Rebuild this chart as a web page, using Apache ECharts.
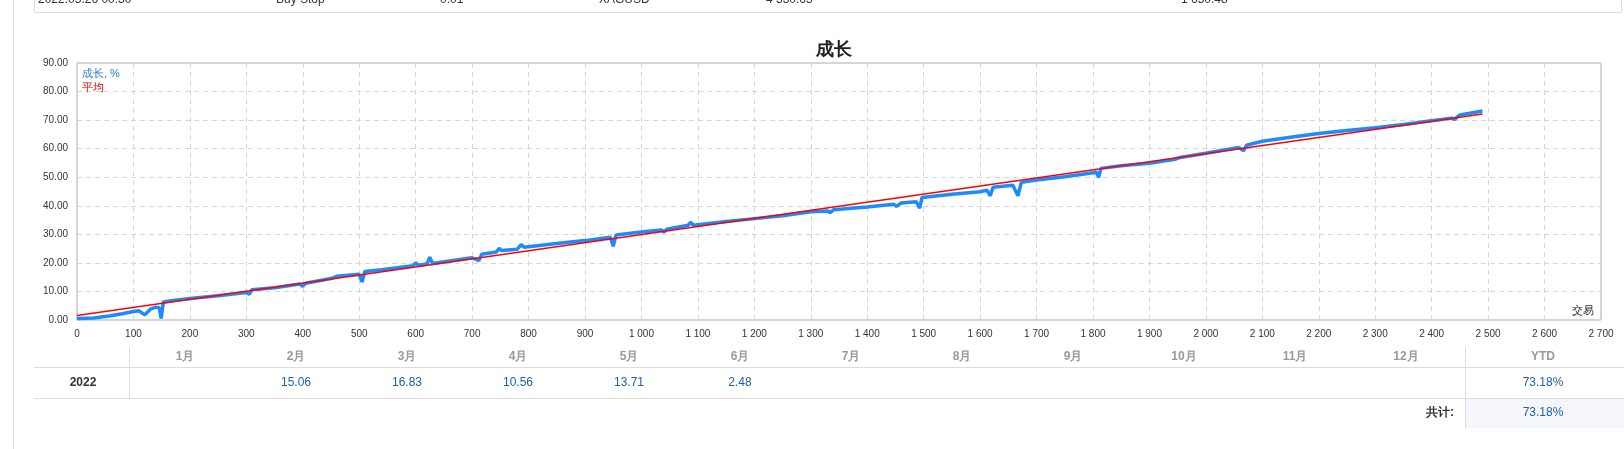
<!DOCTYPE html>
<html>
<head>
<meta charset="utf-8">
<script src="https://cdn.jsdelivr.net/npm/echarts@6/dist/echarts.min.js"></script>
<style>
html,body{margin:0;padding:0;background:#fff;}
#c{width:1624px;height:449px;}
</style>
</head>
<body>
<div id="c"></div>
<script>
// ---- data ----
const title = '成长';
const growthName = '成长, %';
const avgName = '平均';
const xAxisName = '交易';
const growth = [
  [0,0.5],[30,0.7],[60,1.5],[80,2.2],[100,3.0],[110,3.2],[120,1.8],[130,3.8],[140,4.5],[146,4.2],[149,0.5],[153,6.3],
  [170,6.8],[200,7.5],[250,8.5],[300,9.6],[305,9.0],[310,10.6],[350,11.3],[395,12.6],[400,11.8],[405,12.9],
  [450,14.5],[460,15.3],[500,16.0],[505,13.3],[510,17.0],[540,17.6],[595,19.0],[600,20.0],[605,19.2],[620,19.6],
  [625,22.0],[630,19.8],[700,21.8],[712,20.8],[717,23.0],[743,23.8],[748,25.1],[752,24.3],[780,24.8],[787,26.4],
  [792,25.5],[850,26.8],[900,27.8],[945,29.0],[950,25.8],[955,29.8],[1000,30.8],[1035,31.5],[1040,30.8],[1045,31.8],
  [1083,33.2],[1087,34.2],[1092,33.2],[1150,34.5],[1200,35.5],[1250,36.5],[1300,37.9],[1330,38.2],[1335,37.6],
  [1340,38.6],[1400,39.6],[1447,40.5],[1452,39.8],[1460,41.0],[1487,41.4],[1493,39.2],[1497,42.9],[1550,44.0],
  [1600,44.9],[1612,45.5],[1618,43.5],[1623,46.5],[1658,47.2],[1667,43.5],[1673,48.2],[1700,49.0],[1750,50.2],
  [1800,51.6],[1806,51.8],[1810,50.0],[1814,53.1],[1850,54.0],[1900,54.9],[1945,56.3],[1948,55.8],[1952,56.8],
  [2000,58.4],[2058,60.4],[2067,59.3],[2072,61.2],[2100,62.6],[2150,64.0],[2200,65.3],[2250,66.4],[2300,67.3],
  [2350,68.5],[2400,69.8],[2435,70.7],[2440,70.2],[2450,71.8],[2470,72.5],[2490,73.2]
];
const average = [[0,1.6],[2490,72.1]];
const months = ['1月','2月','3月','4月','5月','6月','7月','8月','9月','10月','11月','12月'];
const yearLabel = '2022';
const monthValues = ['', '15.06', '16.83', '10.56', '13.71', '2.48', '', '', '', '', '', ''];
const ytdHeader = 'YTD';
const ytdValue = '73.18%';
const totalLabel = '共计:';
const totalValue = '73.18%';
const topRow = ['2022.05.26 00:30', 'Buy Stop', '0.01', 'XAGUSD', '4 330.65', '1 650.48'];
const topRowX = [38, 276, 440, 599, 766, 1181];

// ---- layout ----
const FONT = '"Liberation Sans", Arial, sans-serif';
const lineCol = '#dcdcdc';
const g = [];
g.push({type:'line', shape:{x1:13.5,y1:0,x2:13.5,y2:449}, style:{stroke:'#dedede',lineWidth:1}});
g.push({type:'polyline', shape:{points:[[34.5,0],[34.5,12.5],[1621.5,12.5],[1621.5,0]]}, style:{stroke:lineCol,lineWidth:1,fill:null}});
topRow.forEach((t,i)=>g.push({type:'text', x:topRowX[i], y:0, style:{text:t, font:'12px '+FONT, fill:'#333', verticalAlign:'middle'}}));
const colStart = 129.5, colW = 111, ytdX = 1465.5;
g.push({type:'rect', shape:{x:ytdX,y:398.5,width:1624-ytdX,height:30}, style:{fill:'#f4f6fb'}});
g.push({type:'line', shape:{x1:34,y1:367.5,x2:1624,y2:367.5}, style:{stroke:lineCol,lineWidth:1}});
g.push({type:'line', shape:{x1:34,y1:398.5,x2:1624,y2:398.5}, style:{stroke:lineCol,lineWidth:1}});
g.push({type:'line', shape:{x1:colStart,y1:347,x2:colStart,y2:398.5}, style:{stroke:lineCol,lineWidth:1}});
g.push({type:'line', shape:{x1:ytdX,y1:347,x2:ytdX,y2:428.5}, style:{stroke:lineCol,lineWidth:1}});
months.forEach((m,i)=>{
  const cx = colStart + colW*(i+0.5);
  g.push({type:'text', x:cx, y:357, style:{text:m, font:'bold 12px '+FONT, fill:'#9a9a9a', align:'center', verticalAlign:'middle'}});
  if (monthValues[i]) g.push({type:'text', x:cx, y:383, style:{text:monthValues[i], font:'12px '+FONT, fill:'#1f5fa6', align:'center', verticalAlign:'middle'}});
});
g.push({type:'text', x:1543, y:357, style:{text:ytdHeader, font:'bold 12px '+FONT, fill:'#9a9a9a', align:'center', verticalAlign:'middle'}});
g.push({type:'text', x:83, y:383, style:{text:yearLabel, font:'bold 12px '+FONT, fill:'#333', align:'center', verticalAlign:'middle'}});
g.push({type:'text', x:1543, y:383, style:{text:ytdValue, font:'12px '+FONT, fill:'#1f5fa6', align:'center', verticalAlign:'middle'}});
g.push({type:'text', x:1454, y:413, style:{text:totalLabel, font:'bold 12px '+FONT, fill:'#333', align:'right', verticalAlign:'middle'}});
g.push({type:'text', x:1543, y:413, style:{text:totalValue, font:'12px '+FONT, fill:'#1f5fa6', align:'center', verticalAlign:'middle'}});
g.push({type:'text', x:82, y:74, z:10, style:{text:growthName, font:'11px '+FONT, fill:'#2a7ae2', verticalAlign:'middle'}});
g.push({type:'text', x:82, y:88, z:10, style:{text:avgName, font:'11px '+FONT, fill:'#e00000', verticalAlign:'middle'}});
g.push({type:'text', x:1594, y:311, z:10, style:{text:xAxisName, font:'11px '+FONT, fill:'#222', align:'right', verticalAlign:'middle'}});

const sep = v => String(v).replace(/\B(?=(\d{3})+(?!\d))/g, ' ');
const chart = echarts.init(document.getElementById('c'), null, {renderer:'canvas'});
chart.setOption({
  animation:false,
  backgroundColor:'#fff',
  title:{text:title, left:829, top:36, textAlign:'center', textStyle:{fontSize:18, fontWeight:'bold', color:'#222', fontFamily:FONT}},
  grid:{left:77, top:63, right:23, bottom:129, show:true, borderColor:'#a8a8a8', borderWidth:1},
  xAxis:{type:'value', min:0, max:2700, interval:100,
    axisLine:{show:false}, axisTick:{show:false},
    axisLabel:{formatter:sep, fontSize:10, color:'#333', margin:9, fontFamily:FONT},
    splitLine:{show:true, lineStyle:{color:'#d6d6d6', type:[5,4], width:1}}},
  yAxis:{type:'value', min:0, max:90, interval:10,
    axisLine:{show:false}, axisTick:{show:false},
    axisLabel:{formatter:v=>v.toFixed(2), fontSize:10, color:'#333', margin:9, fontFamily:FONT},
    splitLine:{show:true, lineStyle:{color:'#d6d6d6', type:[5,4], width:1}}},
  series:[
    {name:growthName, type:'line', data:growth, showSymbol:false, lineStyle:{color:'#1a8cff', width:3.5}, itemStyle:{color:'#1a8cff'}, z:2},
    {name:avgName, type:'line', data:average, showSymbol:false, lineStyle:{color:'#ff0000', width:1.5}, itemStyle:{color:'#ff0000'}, z:3}
  ],
  graphic:g
});
</script>
</body>
</html>
